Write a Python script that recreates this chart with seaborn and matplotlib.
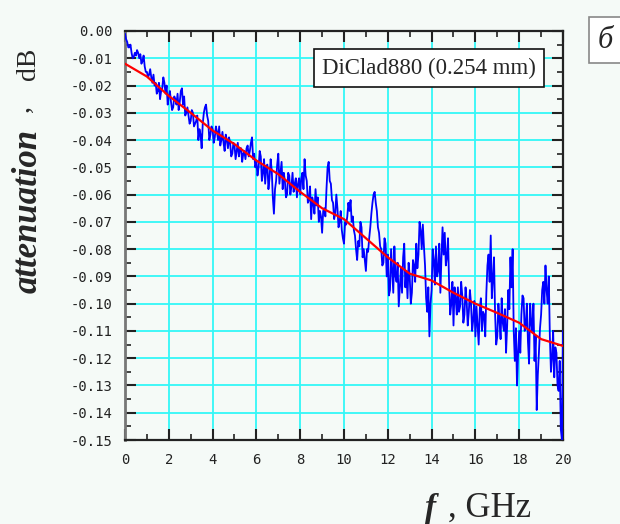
import numpy as np
import pandas as pd
import matplotlib
matplotlib.use("Agg")
import matplotlib.pyplot as plt
import seaborn as sns
from matplotlib.ticker import MultipleLocator, FormatStrFormatter

# measured attenuation read at 0.0, 0.1, ... 20.0 GHz
atten_meas = [
    -0.001, -0.004, -0.006, -0.008, -0.0095, -0.009, -0.008, -0.0085, -0.011, -0.013,
    -0.015, -0.016, -0.017, -0.016, -0.019, -0.022, -0.025, -0.021, -0.019, -0.020,
    -0.024, -0.026, -0.028, -0.025, -0.023, -0.026, -0.021, -0.024, -0.030, -0.031,
    -0.033, -0.030, -0.034, -0.031, -0.036, -0.043, -0.030, -0.027, -0.033, -0.038,
    -0.036, -0.039, -0.037, -0.035, -0.040, -0.041, -0.038, -0.043, -0.041, -0.045,
    -0.042, -0.044, -0.046, -0.043, -0.045, -0.047, -0.042, -0.044, -0.039, -0.045,
    -0.048, -0.050, -0.046, -0.052, -0.056, -0.049, -0.054, -0.051, -0.067, -0.055,
    -0.045, -0.052, -0.058, -0.055, -0.060, -0.053, -0.057, -0.059, -0.054, -0.056,
    -0.060, -0.052, -0.047, -0.055, -0.062, -0.069, -0.063, -0.058, -0.061, -0.066,
    -0.074, -0.065, -0.058, -0.048, -0.056, -0.063, -0.067, -0.065, -0.070, -0.073,
    -0.078, -0.071, -0.063, -0.062, -0.068, -0.075, -0.084, -0.079, -0.072, -0.080,
    -0.088, -0.081, -0.072, -0.063, -0.059, -0.066, -0.074, -0.080, -0.085, -0.078,
    -0.082, -0.095, -0.088, -0.079, -0.092, -0.101, -0.087, -0.083, -0.094, -0.098,
    -0.090, -0.096, -0.086, -0.078, -0.082, -0.073, -0.071, -0.086, -0.103, -0.112,
    -0.095, -0.084, -0.079, -0.088, -0.096, -0.072, -0.074, -0.083, -0.093, -0.100,
    -0.108, -0.098, -0.094, -0.101, -0.097, -0.104, -0.099, -0.103, -0.100, -0.106,
    -0.112, -0.108, -0.102, -0.110, -0.104, -0.096, -0.082, -0.075, -0.091, -0.104,
    -0.112, -0.106, -0.098, -0.110, -0.118, -0.095, -0.083, -0.080, -0.121, -0.130,
    -0.110, -0.104, -0.098, -0.108, -0.114, -0.100, -0.110, -0.121, -0.139, -0.118,
    -0.104, -0.092, -0.086, -0.100, -0.112, -0.120, -0.127, -0.118, -0.132, -0.146,
    -0.110,
]
# in-between readings at 0.05, 0.15, ... 19.95 GHz
atten_meas_mid = [
    -0.003, -0.006, -0.005, -0.010, -0.008, -0.007, -0.010, -0.012, -0.009, -0.015,
    -0.017, -0.014, -0.019, -0.020, -0.023, -0.019, -0.022, -0.017, -0.023, -0.027,
    -0.022, -0.029, -0.024, -0.027, -0.029, -0.022, -0.027, -0.031, -0.028, -0.034,
    -0.029, -0.035, -0.033, -0.040, -0.038, -0.034, -0.028, -0.031, -0.040, -0.035,
    -0.041, -0.035, -0.040, -0.042, -0.037, -0.044, -0.040, -0.039, -0.046, -0.041,
    -0.047, -0.041, -0.043, -0.048, -0.044, -0.043, -0.046, -0.041, -0.047, -0.050,
    -0.053, -0.044, -0.055, -0.047, -0.050, -0.058, -0.047, -0.061, -0.058, -0.049,
    -0.056, -0.048, -0.052, -0.061, -0.052, -0.060, -0.052, -0.056, -0.061, -0.054,
    -0.054, -0.058, -0.053, -0.063, -0.057, -0.061, -0.067, -0.064, -0.070, -0.068,
    -0.066, -0.068, -0.050, -0.055, -0.062, -0.069, -0.060, -0.072, -0.066, -0.076,
    -0.070, -0.068, -0.066, -0.070, -0.073, -0.080, -0.077, -0.070, -0.083, -0.084,
    -0.080, -0.076, -0.067, -0.060, -0.063, -0.072, -0.079, -0.086, -0.076, -0.090,
    -0.097, -0.080, -0.096, -0.090, -0.085, -0.094, -0.096, -0.078, -0.088, -0.085,
    -0.100, -0.084, -0.092, -0.087, -0.070, -0.080, -0.079, -0.098, -0.094, -0.100,
    -0.080, -0.093, -0.090, -0.078, -0.083, -0.082, -0.086, -0.076, -0.104, -0.092,
    -0.094, -0.104, -0.103, -0.092, -0.107, -0.094, -0.108, -0.095, -0.110, -0.099,
    -0.101, -0.115, -0.098, -0.103, -0.112, -0.086, -0.092, -0.098, -0.083, -0.115,
    -0.100, -0.113, -0.107, -0.102, -0.108, -0.102, -0.094, -0.110, -0.109, -0.118,
    -0.118, -0.097, -0.110, -0.100, -0.122, -0.107, -0.100, -0.112, -0.126, -0.109,
    -0.095, -0.100, -0.095, -0.090, -0.125, -0.110, -0.116, -0.130, -0.121, -0.150,
]

# smoothed fit (red), 1 GHz steps
freq_fit = np.arange(0, 21)
atten_fit = [
    -0.012, -0.0167, -0.0238, -0.030, -0.0365, -0.0415, -0.0475, -0.0525, -0.059, -0.065,
    -0.069, -0.076, -0.083, -0.089, -0.0915, -0.096, -0.100, -0.1034, -0.107, -0.113,
    -0.1155,
]

# interleave the two sets of readings into one 0.05 GHz trace
meas = np.empty(401)
meas[0::2] = atten_meas
meas[1::2] = atten_meas_mid
freq_meas = np.arange(401) * 0.05

bg = "#f5faf7"
sns.set_theme(style="ticks")
plt.rcParams["axes.unicode_minus"] = False

fig = plt.figure(figsize=(6.2, 5.24), dpi=100, facecolor=bg)
ax = fig.add_axes([125 / 620, 1 - 440 / 524, 438 / 620, 409 / 524])
ax.set_facecolor(bg)

sns.lineplot(x=freq_meas, y=meas, ax=ax, color="#0000ff", lw=1.3, zorder=3)
sns.lineplot(x=freq_fit, y=atten_fit, ax=ax, color="#ff0000", lw=1.6, zorder=4)

ax.set_xlim(0, 20)
ax.set_ylim(-0.15, 0.0)
ax.xaxis.set_major_locator(MultipleLocator(2))
ax.xaxis.set_minor_locator(MultipleLocator(1))
ax.yaxis.set_major_locator(MultipleLocator(0.01))
ax.yaxis.set_minor_locator(MultipleLocator(0.005))
ax.yaxis.set_major_formatter(FormatStrFormatter("%.2f"))
ax.grid(True, which="major", color="#33f7f7", lw=1.3, zorder=1)

ax.tick_params(which="both", direction="in", top=True, right=True, color="#222222")
ax.tick_params(which="major", length=8, width=1.5)
ax.tick_params(which="minor", length=4, width=1.2)
ax.tick_params(axis="y", pad=9)
ax.tick_params(axis="x", pad=9)
for lab in ax.get_xticklabels() + ax.get_yticklabels():
    lab.set_family("DejaVu Sans Mono")
    lab.set_fontsize(10)
    lab.set_color("#222222")

ax.spines["left"].set_color("#777777")
ax.spines["left"].set_linewidth(2)
for s in ["bottom", "top", "right"]:
    ax.spines[s].set_color("#222222")
    ax.spines[s].set_linewidth(1.6)
ax.set_xlabel("")
ax.set_ylabel("")

serif = ["Liberation Serif", "DejaVu Serif"]
fig.text(28 / 620, 1 - 293 / 524, "attenuation", rotation=90, ha="center", va="bottom",
         family=serif, style="italic", weight="bold", fontsize=25)
fig.text(22 / 620, 1 - 112 / 524, ",", rotation=90, ha="center", va="bottom",
         family=serif, fontsize=20)
fig.text(28 / 620, 1 - 80 / 524, "dB", rotation=90, ha="center", va="bottom",
         family=serif, fontsize=20)
fig.text(425 / 620, 1 - 517 / 524, "f", ha="left", va="baseline",
         family=serif, style="italic", weight="bold", fontsize=24)
fig.text(448 / 620, 1 - 517 / 524, ", GHz", ha="left", va="baseline",
         family=serif, fontsize=25)

fig.text(429 / 620, 1 - 68 / 524, "DiClad880 (0.254 mm)", ha="center", va="center",
         family=serif, fontsize=16.5,
         bbox=dict(boxstyle="square,pad=0.35", fc="white", ec="#111111", lw=1.2))
fig.text(605 / 620, 1 - 40 / 524, "б", ha="center", va="center",
         family=serif, style="italic", fontsize=22,
         bbox=dict(boxstyle="square,pad=0.28", fc="white", ec="#888888", lw=1.2))

fig.savefig("out.png", dpi=100, facecolor=bg)
